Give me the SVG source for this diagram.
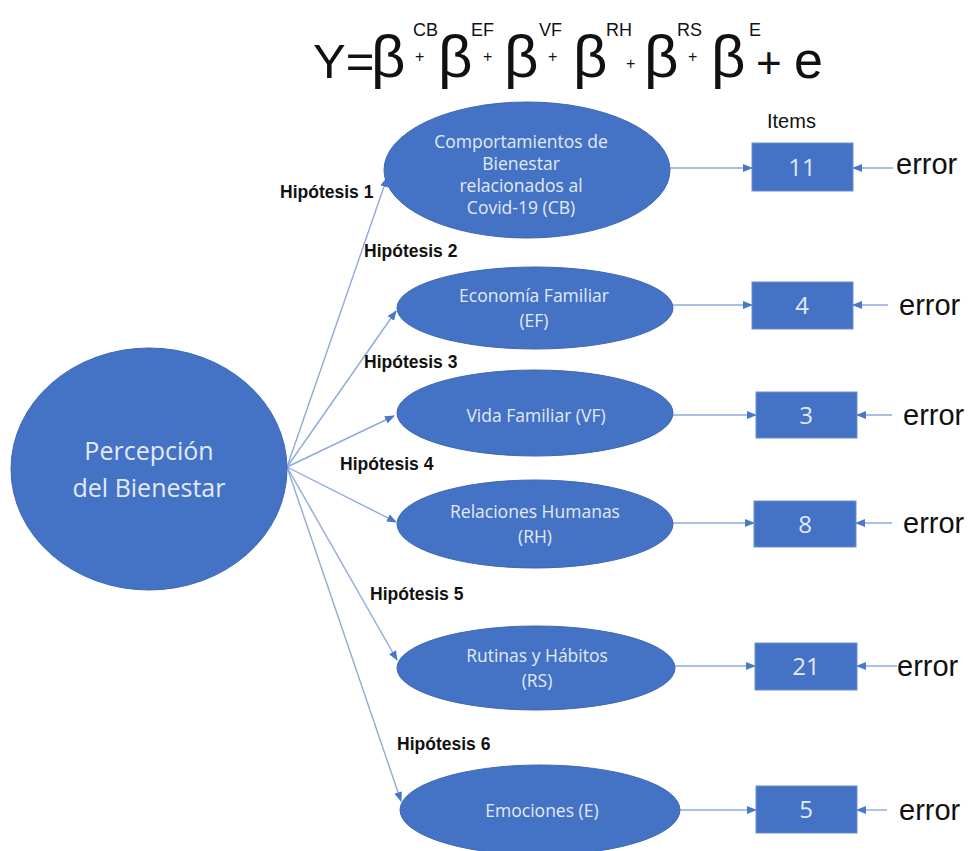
<svg xmlns="http://www.w3.org/2000/svg" width="970" height="851" viewBox="0 0 970 851">
  <style>
    .node { fill: #4472C4; stroke: #3e68b5; stroke-width: 1; }
    .box { fill: #4472C4; stroke: #6c8fd0; stroke-width: 1; }
    .lbl { font-family: "Open Sans", Lato, sans-serif; fill: #e2eaf7; text-anchor: middle; }
    .num { font-family: "Open Sans", Lato, sans-serif; fill: #e2eaf7; font-size: 24px; text-anchor: middle; }
    .hyp { font-family: "Liberation Sans", Arial, sans-serif; font-weight: bold; font-size: 17.5px; fill: #111; }
    .err { font-family: "Liberation Sans", Arial, sans-serif; font-size: 29px; fill: #111; }
    .eq { font-family: "Liberation Sans", Arial, sans-serif; fill: #111; }
    .conn { stroke: #8eaadb; stroke-width: 1.4; fill: none; marker-end: url(#arrow); }
  </style>
  <defs>
    <marker id="arrow" markerUnits="userSpaceOnUse" markerWidth="10" markerHeight="8" refX="9" refY="4" orient="auto">
      <path d="M0,0 L10,4 L0,8 z" fill="#4a78c8"/>
    </marker>
  </defs>
  <rect width="970" height="851" fill="#ffffff"/>

  <!-- equation -->
  <g id="equation" class="eq">
    <text x="313" y="78" font-size="49">Y=</text>
    <text x="371" y="77" font-size="60">β</text>
    <text x="415" y="62" font-size="16">+</text>
    <text x="413" y="36" font-size="18">CB</text>
    <text x="438" y="77" font-size="60">β</text>
    <text x="483" y="62" font-size="16">+</text>
    <text x="471" y="36" font-size="18">EF</text>
    <text x="504" y="77" font-size="60">β</text>
    <text x="548" y="62" font-size="16">+</text>
    <text x="539" y="36" font-size="18">VF</text>
    <text x="573" y="77" font-size="60">β</text>
    <text x="626" y="69" font-size="16">+</text>
    <text x="606" y="36" font-size="18">RH</text>
    <text x="644" y="77" font-size="60">β</text>
    <text x="688" y="62" font-size="16">+</text>
    <text x="677" y="36" font-size="18">RS</text>
    <text x="711" y="77" font-size="60">β</text>
    <text x="749" y="36" font-size="18">E</text>
    <text x="756" y="78" font-size="44">+</text>
    <text x="794" y="78" font-size="52">e</text>
  </g>

  <!-- connectors -->
  <g id="connectors">
    <line class="conn" x1="287" y1="467" x2="387" y2="178"/>
    <line class="conn" x1="287" y1="467" x2="396" y2="311"/>
    <line class="conn" x1="287" y1="467" x2="394" y2="416"/>
    <line class="conn" x1="287" y1="467" x2="396" y2="522"/>
    <line class="conn" x1="287" y1="467" x2="397" y2="660"/>
    <line class="conn" x1="287" y1="467" x2="401" y2="801"/>

    <line class="conn" x1="670" y1="168" x2="752" y2="168"/>
    <line class="conn" x1="673" y1="305" x2="752" y2="305"/>
    <line class="conn" x1="673" y1="415" x2="756" y2="415"/>
    <line class="conn" x1="673" y1="523" x2="754" y2="523"/>
    <line class="conn" x1="675" y1="666" x2="755" y2="666"/>
    <line class="conn" x1="680" y1="810" x2="756" y2="810"/>

    <line class="conn" x1="893" y1="168" x2="853" y2="168"/>
    <line class="conn" x1="888" y1="305" x2="853" y2="305"/>
    <line class="conn" x1="892" y1="415" x2="857" y2="415"/>
    <line class="conn" x1="892" y1="523" x2="856" y2="523"/>
    <line class="conn" x1="897" y1="666" x2="857" y2="666"/>
    <line class="conn" x1="887" y1="810" x2="857" y2="810"/>
  </g>

  <!-- hypothesis labels -->
  <g id="hypotheses">
    <text class="hyp" x="280" y="198">Hipótesis 1</text>
    <text class="hyp" x="364" y="257">Hipótesis 2</text>
    <text class="hyp" x="364" y="368">Hipótesis 3</text>
    <text class="hyp" x="340" y="470">Hipótesis 4</text>
    <text class="hyp" x="370" y="600">Hipótesis 5</text>
    <text class="hyp" x="397" y="750">Hipótesis 6</text>
  </g>

  <!-- central construct -->
  <g id="percepcion">
    <ellipse class="node" cx="149" cy="469" rx="138" ry="121"/>
    <text class="lbl" x="149" y="460" font-size="25">Percepción</text>
    <text class="lbl" x="149" y="497" font-size="25">del Bienestar</text>
  </g>

  <!-- dimensions -->
  <g id="cb">
    <ellipse class="node" cx="527" cy="170" rx="143" ry="68"/>
    <text class="lbl" x="521" y="148" font-size="17.5">Comportamientos de</text>
    <text class="lbl" x="521" y="170" font-size="17.5">Bienestar</text>
    <text class="lbl" x="521" y="192" font-size="17.5">relacionados al</text>
    <text class="lbl" x="521" y="214" font-size="17.5">Covid-19 (CB)</text>
  </g>
  <g id="ef">
    <ellipse class="node" cx="535" cy="308" rx="138" ry="41"/>
    <text class="lbl" x="534" y="302" font-size="17.5">Economía Familiar</text>
    <text class="lbl" x="534" y="327" font-size="17.5">(EF)</text>
  </g>
  <g id="vf">
    <ellipse class="node" cx="535" cy="413" rx="138" ry="43"/>
    <text class="lbl" x="536" y="422" font-size="17.5">Vida Familiar (VF)</text>
  </g>
  <g id="rh">
    <ellipse class="node" cx="535" cy="524" rx="138" ry="44"/>
    <text class="lbl" x="535" y="518" font-size="17.5">Relaciones Humanas</text>
    <text class="lbl" x="535" y="543" font-size="17.5">(RH)</text>
  </g>
  <g id="rs">
    <ellipse class="node" cx="536" cy="668" rx="139" ry="42"/>
    <text class="lbl" x="537" y="662" font-size="17.5">Rutinas y Hábitos</text>
    <text class="lbl" x="537" y="687" font-size="17.5">(RS)</text>
  </g>
  <g id="e">
    <ellipse class="node" cx="540" cy="810" rx="140" ry="45"/>
    <text class="lbl" x="542" y="817" font-size="17.5">Emociones (E)</text>
  </g>

  <!-- item counts -->
  <text class="eq" x="767" y="128" font-size="20">Items</text>
  <g id="item-cb">
    <rect class="box" x="752" y="143" width="101" height="48"/>
    <text class="num" x="802" y="176">11</text>
  </g>
  <g id="item-ef">
    <rect class="box" x="752" y="282" width="101" height="47"/>
    <text class="num" x="802" y="314">4</text>
  </g>
  <g id="item-vf">
    <rect class="box" x="756" y="392" width="101" height="46"/>
    <text class="num" x="806" y="424">3</text>
  </g>
  <g id="item-rh">
    <rect class="box" x="754" y="501" width="102" height="46"/>
    <text class="num" x="805" y="533">8</text>
  </g>
  <g id="item-rs">
    <rect class="box" x="755" y="643" width="102" height="47"/>
    <text class="num" x="806" y="675">21</text>
  </g>
  <g id="item-e">
    <rect class="box" x="756" y="786" width="101" height="47"/>
    <text class="num" x="806" y="818">5</text>
  </g>

  <!-- error terms -->
  <g id="errors">
    <text class="err" x="896" y="174">error</text>
    <text class="err" x="899" y="315">error</text>
    <text class="err" x="903" y="425">error</text>
    <text class="err" x="903" y="533">error</text>
    <text class="err" x="897" y="676">error</text>
    <text class="err" x="899" y="820">error</text>
  </g>
</svg>
